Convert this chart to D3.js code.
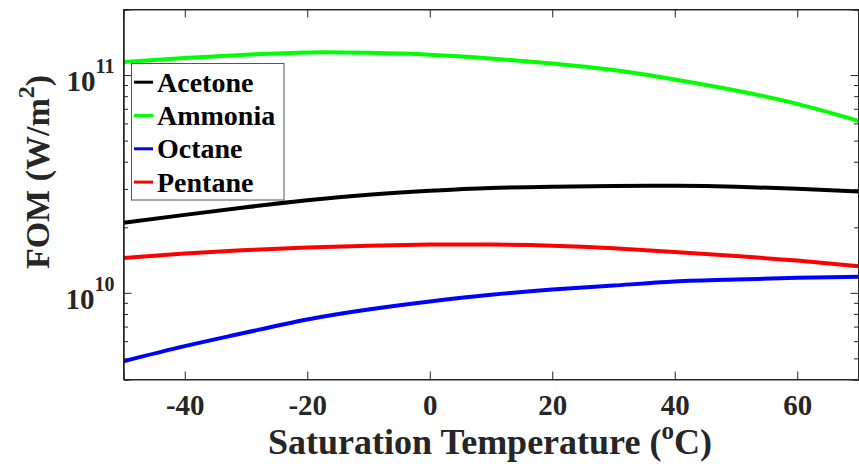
<!DOCTYPE html>
<html>
<head>
<meta charset="utf-8">
<script src="https://cdn.jsdelivr.net/npm/d3@7"></script>
<style>
  html, body { margin: 0; padding: 0; background: #fff; }
</style>
</head>
<body>
<svg id="chart" width="859" height="464"></svg>
<script>
// Saturation temperature samples (°C)
const temperatures = [-50, -40, -30, -20, -10, 0, 10, 20, 30, 40, 50, 60, 70];

// Figure of merit for each working fluid (W/m^2)
const acetone = [2.10e10, 2.28e10, 2.47e10, 2.66e10, 2.82e10, 2.94e10, 3.03e10, 3.07e10, 3.095e10, 3.10e10, 3.07e10, 3.005e10, 2.92e10];
const ammonia = [1.147e11, 1.198e11, 1.24e11, 1.27e11, 1.265e11, 1.24e11, 1.192e11, 1.13e11, 1.054e11, 9.54e10, 8.49e10, 7.37e10, 6.16e10];
const octane  = [4.85e9, 5.69e9, 6.57e9, 7.55e9, 8.39e9, 9.12e9, 9.79e9, 1.035e10, 1.08e10, 1.127e10, 1.151e10, 1.172e10, 1.184e10];
const pentane = [1.447e10, 1.514e10, 1.571e10, 1.613e10, 1.647e10, 1.665e10, 1.665e10, 1.647e10, 1.604e10, 1.541e10, 1.475e10, 1.406e10, 1.324e10];

const seriesNames = ["Acetone", "Ammonia", "Octane", "Pentane"];
const seriesValues = [acetone, ammonia, octane, pentane];
const seriesColors = ["#000000", "#00ff00", "#0000ff", "#ff0000"];

const xTicks = [-40, -20, 0, 20, 40, 60];
const yMajorTicks = [1e10, 1e11];
const yMinorTicks = [5e9, 6e9, 7e9, 8e9, 9e9, 2e10, 3e10, 4e10, 5e10, 6e10, 7e10, 8e10, 9e10];

const xLabel = "Saturation Temperature (";
const yLabel = "FOM (W/m";

const FONT = "'Liberation Serif', 'Times New Roman', serif";

const svg = d3.select("#chart");
const plotL = 123.5, plotR = 858.5, plotT = 9.5, plotB = 379.5;

const x = d3.scaleLinear().domain([-50, 70]).range([plotL, plotR]);
const y = d3.scaleLog().domain([4e9, 2e11]).range([plotB, plotT]);

const axisColor = "#262626";

function styleText(sel, size, color) {
  return sel.style("font-family", FONT).style("font-weight", "bold")
    .style("font-size", size + "px").style("fill", color || axisColor);
}

// clip for the data lines
svg.append("defs").append("clipPath").attr("id", "plotClip")
  .append("rect").attr("x", plotL).attr("y", plotT)
  .attr("width", plotR - plotL).attr("height", plotB - plotT);

// data lines
const line = d3.line()
  .x((d, i) => x(temperatures[i]))
  .y(d => y(d))
  .curve(d3.curveNatural);

const linesG = svg.append("g").attr("clip-path", "url(#plotClip)");
seriesValues.forEach((vals, k) => {
  linesG.append("path")
    .attr("d", line(vals))
    .attr("fill", "none")
    .attr("stroke", seriesColors[k])
    .attr("stroke-width", 4)
    .attr("stroke-linejoin", "round");
});

// axes: bottom and left with labels, top and right mirrored without labels
const majorLen = 8, minorLen = 4.5;
const hyphenFormat = d => String(d);

const xAxisBottom = d3.axisBottom(x).tickValues(xTicks).tickSize(-majorLen).tickPadding(majorLen + 7).tickFormat(hyphenFormat);
const gxb = svg.append("g").attr("transform", `translate(0,${plotB})`).call(xAxisBottom);
const xAxisTop = d3.axisTop(x).tickValues(xTicks).tickSize(-majorLen).tickFormat("");
const gxt = svg.append("g").attr("transform", `translate(0,${plotT})`).call(xAxisTop);

const yAxisLeft = d3.axisLeft(y).tickValues(yMajorTicks).tickSize(-majorLen).tickFormat("");
const gyl = svg.append("g").attr("transform", `translate(${plotL},0)`).call(yAxisLeft);
const yAxisLeftMinor = d3.axisLeft(y).tickValues(yMinorTicks).tickSize(-minorLen).tickFormat("");
const gylm = svg.append("g").attr("transform", `translate(${plotL},0)`).call(yAxisLeftMinor);
const yAxisRight = d3.axisRight(y).tickValues(yMajorTicks).tickSize(-majorLen).tickFormat("");
const gyr = svg.append("g").attr("transform", `translate(${plotR},0)`).call(yAxisRight);
const yAxisRightMinor = d3.axisRight(y).tickValues(yMinorTicks).tickSize(-minorLen).tickFormat("");
const gyrm = svg.append("g").attr("transform", `translate(${plotR},0)`).call(yAxisRightMinor);

[gxb, gxt, gyl, gylm, gyr, gyrm].forEach(g => {
  g.selectAll(".domain").attr("stroke", axisColor).attr("stroke-width", 1);
  g.selectAll(".tick line").attr("stroke", axisColor).attr("stroke-width", 1);
});
styleText(gxb.selectAll(".tick text"), 29).attr("dy", "0.71em");

// y tick labels as powers of ten
yMajorTicks.forEach(v => {
  const exp = Math.round(Math.log10(v));
  const t = styleText(svg.append("text"), 29)
    .attr("x", plotL - 9)
    .attr("y", y(v) + 16)
    .attr("text-anchor", "end");
  t.append("tspan").text("10");
  t.append("tspan").style("font-size", "20px").attr("dy", -18).text(String(exp));
});

// frame
svg.append("rect").attr("x", plotL).attr("y", plotT)
  .attr("width", plotR - plotL).attr("height", plotB - plotT)
  .attr("fill", "none").attr("stroke", axisColor).attr("stroke-width", 1);

// x axis title
const xt = styleText(svg.append("text"), 36)
  .attr("x", (plotL + plotR) / 2 - 1)
  .attr("y", 454)
  .attr("text-anchor", "middle");
xt.append("tspan").text(xLabel);
xt.append("tspan").style("font-size", "25px").attr("dy", -15).text("o");
xt.append("tspan").attr("dy", 15).text("C)");

// y axis title
const yt = styleText(svg.append("text"), 34)
  .attr("transform", `translate(49,172) rotate(-90)`)
  .attr("text-anchor", "middle");
yt.append("tspan").text(yLabel);
yt.append("tspan").style("font-size", "24px").attr("dy", -15).text("2");
yt.append("tspan").attr("dy", 15).text(")");

// legend
const lg = svg.append("g");
lg.append("rect")
  .attr("x", 131.5).attr("y", 63.5).attr("width", 152.5).attr("height", 136.5)
  .attr("fill", "#fff").attr("stroke", "#555").attr("stroke-width", 1);
seriesNames.forEach((name, k) => {
  const by = 91.7 + k * 33.3;
  lg.append("line")
    .attr("x1", 134).attr("x2", 153)
    .attr("y1", by - 9.5).attr("y2", by - 9.5)
    .attr("stroke", seriesColors[k]).attr("stroke-width", 3);
  styleText(lg.append("text"), 28, "#000")
    .attr("x", 157).attr("y", by)
    .text(name);
});
</script>
</body>
</html>
